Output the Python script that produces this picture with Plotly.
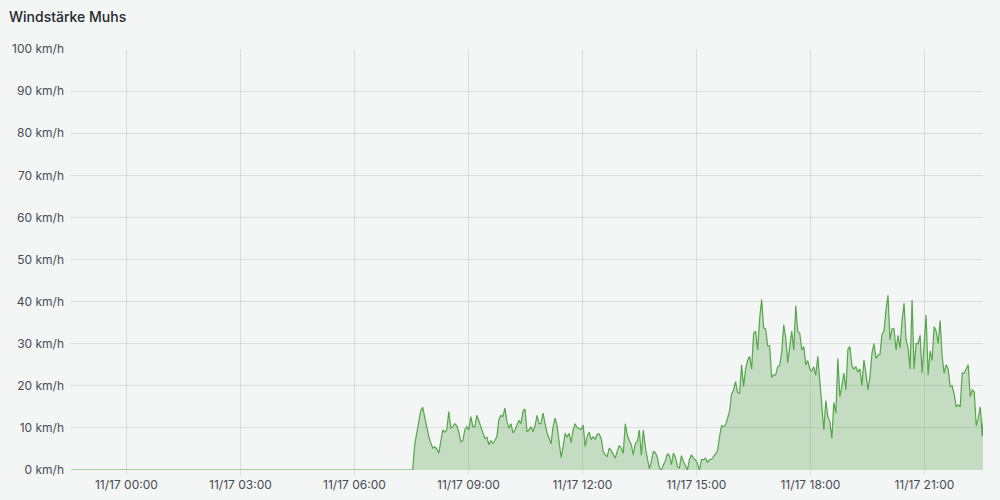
import pandas as pd
import plotly.graph_objects as go

# wind speed (km/h), sampled every 190 s starting 11/17 07:32
start = "2023-11-17 07:32:00"
step = "190s"
wind = [
    0, 6, 9, 12, 14, 14.9, 12.5, 11, 8, 6.5, 5.2, 5.5, 5, 4, 6.5, 9.5, 9, 9.5, 13.9, 10, 10.3,
    11, 10.5, 9, 6.7, 7, 9.5, 10.3, 9.5, 12.7, 10.3, 10.3, 13, 11.5, 10, 8.7, 7.5, 7.8, 6, 7, 6.3,
    7, 8, 12, 13, 12.7, 14.7, 11.5, 9.9, 11, 8.8, 9.5, 10.8, 11.8, 11, 14, 14.5, 9.1, 9.5, 10.3, 9.1,
    10.5, 13, 11, 11, 13.5, 11, 8.8, 7.6, 6.2, 10.3, 12.3, 10.5, 7, 3, 5.5, 8.7, 7.8, 8.7, 6.5, 9.5,
    11, 10, 9.8, 9.6, 10.7, 5.6, 8, 9, 7.2, 7.9, 7.3, 8.5, 8.5, 7.5, 4.4, 3.6, 3.2, 5.2, 4.6, 3.6,
    2.8, 4.5, 5.8, 5.2, 4, 11, 8.3, 7, 6, 3.6, 6.3, 6.7, 9.5, 3.5, 9.5, 5.4, 3, 0.3, 2, 4.4,
    4.1, 3, 0.5, 0, 1.2, 2.2, 3.8, 3.5, 1.3, 4, 3, 0.8, 0.5, 3.4, 2, 1, 0, 2.5, 3.6, 2.8,
    2.4, 1.5, 0, 2.5, 2.4, 2.8, 1.8, 2.5, 2.5, 3.2, 3.8, 4.5, 7.9, 10.5, 10.3, 10.7, 12.3, 14, 18, 19,
    21, 18.4, 18.2, 25, 19.8, 24, 26, 27, 24, 32.5, 33, 28.5, 36, 40.5, 33.7, 33.5, 29.5, 29.5, 22, 22.6,
    22.6, 24.5, 24.8, 28, 34.5, 31.5, 25.5, 29, 33, 28.5, 39, 33, 32.5, 28.5, 29.3, 25, 26, 24, 23.5, 24.5,
    22.5, 27, 21, 14, 9.5, 16.5, 12.7, 11.5, 7.5, 16, 13.5, 26.5, 17.4, 20, 23, 19, 28.7, 29.3, 24.8, 24,
    24.5, 23.3, 24, 20, 26.1, 23, 19, 22.2, 27.7, 30, 26.5, 27.3, 27.5, 32.2, 33, 38, 41.5, 30.9, 33.5, 33.5,
    28.5, 32, 29, 35.5, 39.6, 31, 29, 24, 40.4, 24, 30, 30, 32, 23, 30, 36.8, 22.5, 28.3, 26, 34,
    33, 30, 35.5, 27, 23, 25, 24, 19.8, 20, 18, 15, 15.5, 15, 23, 23, 24, 25, 17.4, 19, 18.5,
    10.5, 12.3, 15, 8, 15.4, 12.5, 11.1,
]
calm_start = "2023-11-16 22:33:00"
window = ["2023-11-16 22:32:30", "2023-11-17 22:32:30"]

times = [pd.Timestamp(calm_start)] + list(pd.date_range(start, periods=len(wind), freq=step))
values = [0] + wind

fig = go.Figure()
fig.add_trace(go.Scatter(
    x=times, y=values,
    mode="lines", line=dict(color="#56a64b", width=1.2),
    fill="tozeroy", fillcolor="rgba(86,166,75,0.3)",
    showlegend=False, hoverinfo="skip",
))

grid = "rgba(36,41,46,0.12)"
fig.update_layout(
    width=1000, height=500,
    margin=dict(l=71, r=17, t=49, b=30),
    paper_bgcolor="#f4f5f5", plot_bgcolor="#f4f5f5",
    font=dict(family="Inter, Roboto, sans-serif", size=12, color="#464c54"),
    title=dict(text="Windstärke Muhs", x=0.009, xanchor="left", xref="container",
               y=0.966, yanchor="middle", yref="container",
               font=dict(size=14, color="#24292e", weight=500)),
    xaxis=dict(range=window, tickformat="%m/%d %H:%M", dtick=3 * 3600 * 1000,
               tick0="2023-11-17 00:00", showgrid=True, gridcolor=grid, gridwidth=1,
               ticks="outside", ticklen=4, tickcolor=grid, zeroline=False, showline=False,
               automargin=False),
    yaxis=dict(range=[0, 100], dtick=10, ticksuffix=" km/h", showgrid=True,
               gridcolor=grid, gridwidth=1, zeroline=False, showline=False,
               ticklabelstandoff=6, automargin=False),
)

fig.write_html("out.html", config={"displayModeBar": False},
               post_script="document.body.style.margin='0';")
